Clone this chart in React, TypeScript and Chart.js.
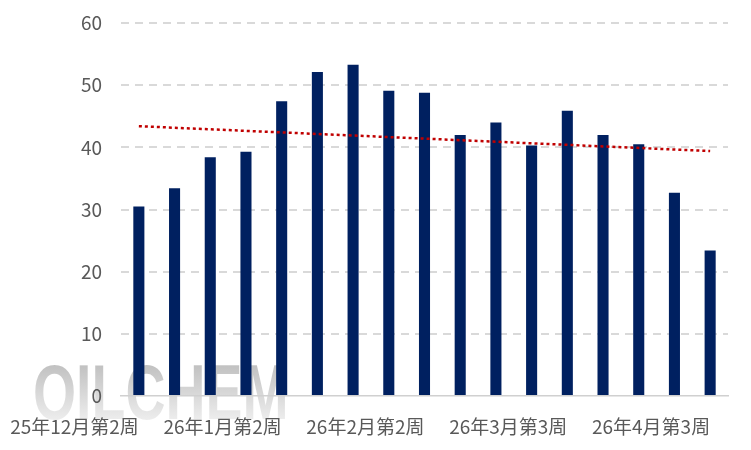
import { useEffect, useRef } from 'react';
import { Chart, registerables } from 'chart.js';

Chart.register(...registerables);

const weeks = [
  '25年12月第2周', '25年12月第3周', '25年12月第4周', '26年1月第1周',
  '26年1月第2周', '26年1月第3周', '26年1月第4周', '26年2月第1周',
  '26年2月第2周', '26年2月第4周', '26年3月第1周', '26年3月第2周',
  '26年3月第3周', '26年3月第4周', '26年4月第1周', '26年4月第2周',
  '26年4月第3周',
];
const values = [30.5, 33.4, 38.4, 39.3, 47.4, 52.1, 53.3, 49.1, 48.8, 42.0, 44.0, 40.3, 45.9, 42.0, 40.5, 32.7, 23.4];
// trend line ends
const trendStart = 43.4;
const trendEnd = 39.4;
const yTicks = [0, 10, 20, 30, 40, 50, 60];

const FONT = "'Noto Sans CJK SC', 'Noto Sans', sans-serif";

// keep the scales from pushing the plot area around
const noPad = (s: any) => {
  s.paddingLeft = 0;
  s.paddingRight = 0;
  s.paddingTop = 0;
  s.paddingBottom = 0;
};

export default function App() {
  const chartRef = useRef<HTMLCanvasElement>(null);
  const chartInstance = useRef<Chart | null>(null);

  useEffect(() => {
    if (!chartRef.current) return;
    if (chartInstance.current) chartInstance.current.destroy();
    const ctx = chartRef.current.getContext('2d');
    if (!ctx) return;

    const trend = weeks.map((_, i) => (i === 0 ? trendStart : i === weeks.length - 1 ? trendEnd : null));

    chartInstance.current = new Chart(ctx, {
      type: 'bar',
      data: {
        labels: weeks,
        datasets: [
          {
            type: 'line',
            data: trend,
            spanGaps: true,
            borderColor: '#c00000',
            borderWidth: 2.5,
            borderDash: [3, 3],
            pointRadius: 0,
            order: 0,
          } as any,
          {
            type: 'bar',
            data: values,
            backgroundColor: '#002060',
            barPercentage: 0.31,
            categoryPercentage: 1,
            order: 1,
          },
        ],
      },
      options: {
        animation: false,
        responsive: true,
        maintainAspectRatio: false,
        layout: { autoPadding: false, padding: { left: 0, right: 23, top: 23, bottom: 0 } },
        plugins: { legend: { display: false }, tooltip: { enabled: false } },
        scales: {
          x: {
            afterFit: (s: any) => { s.height = 54; noPad(s); },
            grid: { display: false },
            border: { display: true, color: '#d0d0d0', width: 1.5 },
            ticks: {
              autoSkip: false,
              maxRotation: 0,
              align: 'end',
              padding: 11,
              color: '#595959',
              font: { family: FONT, size: 19 },
              callback: (_v: any, i: number) => (i % 4 === 0 ? weeks[i] : ''),
            },
          },
          y: {
            min: yTicks[0],
            max: yTicks[yTicks.length - 1],
            afterFit: (s: any) => { s.width = 121; noPad(s); },
            afterBuildTicks: (s: any) => { s.ticks = yTicks.map(v => ({ value: v })); },
            border: { display: false, dash: [8, 6] },
            grid: {
              drawTicks: false,
              lineWidth: 2,
              color: (c: any) => (c.tick && c.tick.value === 0 ? 'rgba(0,0,0,0)' : '#d9d9d9'),
            },
            ticks: {
              padding: 19,
              color: '#595959',
              font: { family: FONT, size: 19 },
            },
          },
        },
      },
    });

    return () => {
      if (chartInstance.current) chartInstance.current.destroy();
    };
  }, []);

  return (
    <div style={{ position: 'fixed', left: 0, top: 0, width: 751, height: 450, background: '#fff' }}>
      <div
        style={{
          position: 'absolute',
          left: 33,
          top: 354,
          fontFamily: "'Liberation Sans', Arial, sans-serif",
          fontWeight: 'bold',
          fontSize: 77,
          lineHeight: '77px',
          transform: 'scaleX(0.72)',
          transformOrigin: 'left top',
          background: 'linear-gradient(#b8b8b8, #f6f6f6)',
          WebkitBackgroundClip: 'text',
          backgroundClip: 'text',
          color: 'transparent',
          zIndex: 0,
        }}
      >
        OILCHEM
      </div>
      <div style={{ position: 'absolute', inset: 0, zIndex: 1 }}>
        <canvas ref={chartRef} />
      </div>
    </div>
  );
}
